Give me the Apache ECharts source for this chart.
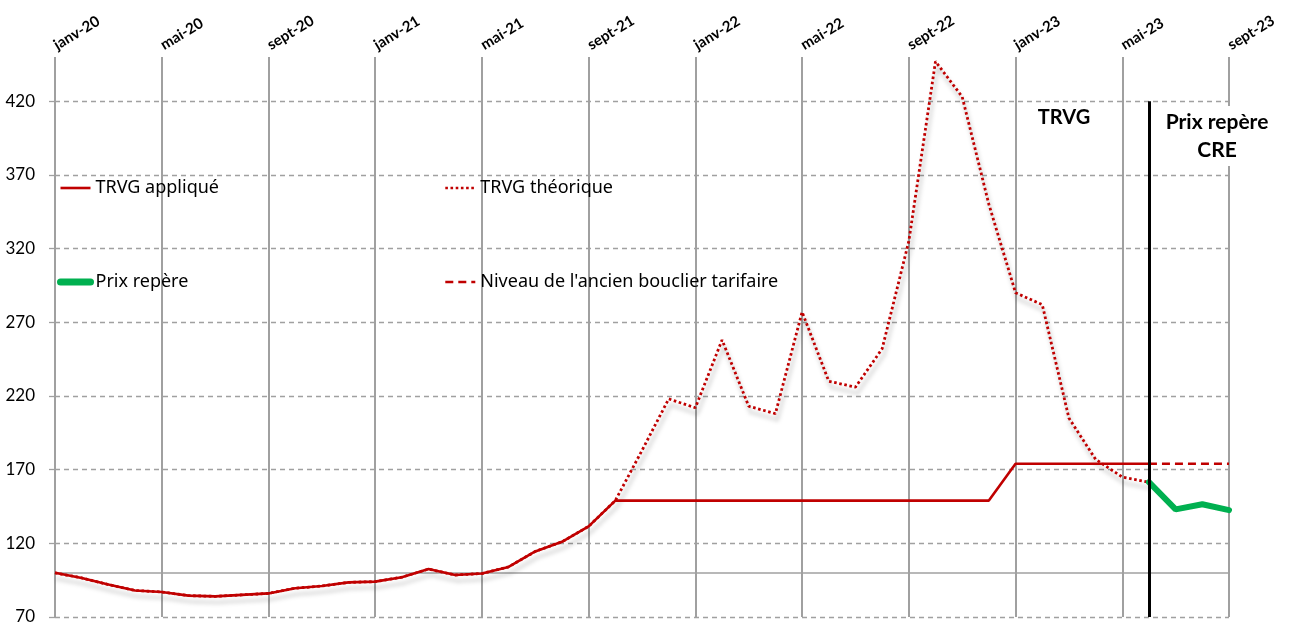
<!DOCTYPE html>
<html><head><meta charset="utf-8">
<script src="https://cdn.jsdelivr.net/npm/echarts@6/dist/echarts.min.js"></script>
<style>html,body{margin:0;padding:0;background:#fff}#c{width:1301px;height:625px}</style>
</head><body><div id="c"></div>
<script>
const months = ['janv-20','févr-20','mars-20','avr-20','mai-20','juin-20','juil-20','août-20','sept-20','oct-20','nov-20','déc-20',
 'janv-21','févr-21','mars-21','avr-21','mai-21','juin-21','juil-21','août-21','sept-21','oct-21','nov-21','déc-21',
 'janv-22','févr-22','mars-22','avr-22','mai-22','juin-22','juil-22','août-22','sept-22','oct-22','nov-22','déc-22',
 'janv-23','févr-23','mars-23','avr-23','mai-23','juin-23','juil-23','août-23','sept-23'];
const trvgApplique = [100, 96.5, 92, 88, 87, 84.5, 84, 85, 86, 89.5, 91, 93.5, 94, 97, 102.5, 98.5, 99.5, 104, 114.5, 121, 131.5,
 149, 149, 149, 149, 149, 149, 149, 149, 149, 149, 149, 149, 149, 149, 149,
 174, 174, 174, 174, 174, 174, null, null, null];
const trvgTheorique = [100, 96.5, 92, 88, 87, 84.5, 84, 85, 86, 89.5, 91, 93.5, 94, 97, 102.5, 98.5, 99.5, 104, 114.5, 121, 131.5,
 149, 183, 218, 212, 258, 213, 208, 277, 230, 226, 252, 325, 447, 423, 350, 290, 282, 205, 177, 165, 161.5, null, null, null];
const prixRepere = [null,null,null,null,null,null,null,null,null,null,null,null,null,null,null,null,null,null,null,null,null,
 null,null,null,null,null,null,null,null,null,null,null,null,null,null,null,null,null,null,null,null, 161.5, 143, 146.5, 142.5];
const bouclier = [null,null,null,null,null,null,null,null,null,null,null,null,null,null,null,null,null,null,null,null,null,
 null,null,null,null,null,null,null,null,null,null,null,null,null,null,null,null,null,null,null,null, 174, 174, 174, 174];
const baseLevel = 100;
const separatorMonth = 'juin-23';

const RED = '#C00000';
const GREEN = '#00B050';
const chart = echarts.init(document.getElementById('c'));
const legendText = {fontFamily: 'Noto Sans', fontSize: 18, color: '#000'};
const legendCommon = {orient: 'vertical', top: 179, itemGap: 76, itemWidth: 30, itemHeight: 14, padding: 0,
  textStyle: legendText, itemStyle: {opacity: 0},
  lineStyle: {shadowBlur: 0, shadowOffsetX: 0, shadowOffsetY: 0, width: 2.6}};
chart.setOption({
  animation: false,
  grid: {left: 55, right: 72, top: 57, bottom: 8, outerBoundsMode: 'none', containLabel: false},
  legend: [
    Object.assign({}, legendCommon, {left: 57,
      data: [{name: 'TRVG appliqué'}, {name: 'Prix repère', lineStyle: {width: 7, cap: 'round'}}]}),
    Object.assign({}, legendCommon, {left: 444,
      data: [{name: 'TRVG théorique'}, {name: "Niveau de l'ancien bouclier tarifaire"}]})
  ],
  xAxis: {
    type: 'category', data: months, boundaryGap: false, position: 'top',
    axisLine: {show: false}, axisTick: {show: false},
    axisLabel: {interval: 3, rotate: -31, margin: 11, fontFamily: 'Lato', fontWeight: 'bold', fontSize: 15, color: '#000'},
    splitLine: {show: true, interval: 3, lineStyle: {color: '#a0a0a0', width: 2}}
  },
  yAxis: {
    type: 'value', min: 70, max: 450, interval: 50,
    axisLine: {show: false},
    axisTick: {show: true, length: 6, lineStyle: {color: '#a0a0a0', width: 1.3}},
    axisLabel: {showMaxLabel: false, margin: 20, fontFamily: 'Lato', fontSize: 17, color: '#000'},
    splitLine: {show: true, showMaxLine: false, lineStyle: {color: '#a0a0a0', width: 1.3, type: [5, 4]}}
  },
  series: [
    {name: 'TRVG théorique', type: 'line', data: trvgTheorique, symbol: 'none', z: 2,
     lineStyle: {color: RED, width: 2.8, type: [2.6, 2.6], shadowColor: 'rgba(0,0,0,0.35)', shadowBlur: 4, shadowOffsetX: 2, shadowOffsetY: 6},
     itemStyle: {color: RED},
     markLine: {silent: true, symbol: 'none', z: 1, label: {show: false},
       lineStyle: {color: '#a0a0a0', width: 1.6, type: 'solid', shadowBlur: 0, shadowOffsetX: 0, shadowOffsetY: 0},
       data: [{yAxis: baseLevel}]}},
    {name: 'TRVG appliqué', type: 'line', data: trvgApplique, symbol: 'none', z: 3,
     lineStyle: {color: RED, width: 2.6}, itemStyle: {color: RED}},
    {name: "Niveau de l'ancien bouclier tarifaire", type: 'line', data: bouclier, symbol: 'none', z: 3,
     lineStyle: {color: RED, width: 2.6, type: [8, 5]}, itemStyle: {color: RED}},
    {name: 'Prix repère', type: 'line', data: prixRepere, symbol: 'none', z: 4,
     lineStyle: {color: GREEN, width: 6, cap: 'round'}, itemStyle: {color: GREEN},
     markLine: {silent: true, symbol: 'none', z: 10, label: {show: false},
       lineStyle: {color: '#000', width: 3, type: 'solid'},
       data: [[{coord: [separatorMonth, 420]}, {coord: [separatorMonth, 70]}]]}}
  ],
  graphic: [
    {type: 'text', x: 1064, y: 108, z: 100,
     style: {text: 'TRVG', font: 'bold 20px Lato', fill: '#000', align: 'center'}},
    {type: 'text', x: 1217, y: 106, z: 100,
     style: {text: 'Prix repère\nCRE', font: 'bold 21px Lato', fill: '#000', align: 'center', lineHeight: 28,
       backgroundColor: '#fff', padding: [2, 6, 2, 6]}}
  ]
});
</script></body></html>
